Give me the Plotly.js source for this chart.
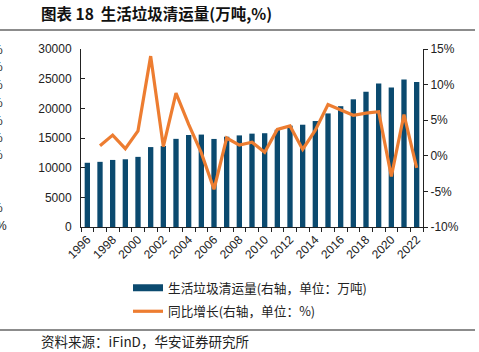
<!DOCTYPE html>
<html><head><meta charset="utf-8">
<script src="https://cdn.plot.ly/plotly-3.0.1.min.js"></script>
<style>html,body{margin:0;padding:0;background:#fff;}#chart{width:479px;height:352px;}</style>
</head><body><div id="chart"></div>
<script>
const years = [1996,1997,1998,1999,2000,2001,2002,2003,2004,2005,2006,2007,2008,2009,2010,2011,2012,2013,2014,2015,2016,2017,2018,2019,2020,2021,2022];
const volume = [10825,10982,11302,11415,11819,13470,13650,14857,15509,15577,14841,15215,15438,15734,15805,16395,17081,17239,17860,19142,20362,21521,22802,24206,23512,24869,24445];
const growthYears = [1997,1998,1999,2000,2001,2002,2003,2004,2005,2006,2007,2008,2009,2010,2011,2012,2013,2014,2015,2016,2017,2018,2019,2020,2021,2022];
const growth = [1.4,2.9,1.0,3.5,14.0,1.3,8.8,4.4,0.4,-4.7,2.5,1.5,1.9,0.5,3.7,4.2,0.9,3.6,7.2,6.4,5.7,6.0,6.2,-2.9,5.8,-1.7];
const tickYears = [1996,1998,2000,2002,2004,2006,2008,2010,2012,2014,2016,2018,2020,2022];
const leftTicks = [0,5000,10000,15000,20000,25000,30000];
const rightTicks = [-10,-5,0,5,10,15];
const seriesNames = ['生活垃圾清运量(右轴，单位：万吨)','同比增长(右轴，单位：%)'];
const titleText = '图表 18  生活垃圾清运量(万吨,%)';
const sourceText = '资料来源：iFinD，华安证券研究所';

const BLUE = '#0b4a6f', ORANGE = '#ed7d31';
const L = 81, R = 423, T = 49, B = 227;
const px = x => (x - L) / (R - L);
const py = y => (B - y) / (B - T);
const cjk = '"Noto Sans CJK SC", sans-serif';
const num = '"Liberation Sans", Arial, sans-serif';

const traces = [
  {type:'bar', x:years, y:volume, marker:{color:BLUE}, width:0.42, showlegend:false, name:seriesNames[0]},
  {type:'scatter', mode:'lines', x:[null], y:[null], line:{color:BLUE, width:7}, name:seriesNames[0], legendgroup:'a', hoverinfo:'skip'},
  {type:'scatter', mode:'lines', x:growthYears, y:growth, yaxis:'y2', line:{color:ORANGE, width:3.2}, name:seriesNames[1], legendgroup:'b'}
];

const pctStray = [50,67,85,103,121,138,155,208];
const annotations = pctStray.map(y => ({xref:'paper', yref:'paper', x:px(5), y:py(y), xanchor:'right', yanchor:'middle', text:'%', showarrow:false, font:{family:num, size:12, color:'#222'}}));
annotations.push({xref:'paper', yref:'paper', x:px(9), y:py(226), xanchor:'right', yanchor:'middle', text:'%', showarrow:false, font:{family:num, size:12, color:'#222'}});
annotations.push({xref:'paper', yref:'paper', x:px(39), y:py(341), xanchor:'left', yanchor:'middle', text:sourceText, showarrow:false, font:{family:cjk, size:13.5, color:'#222'}});

const layout = {
  width:479, height:352,
  margin:{l:L, r:479-R, t:T, b:352-B, pad:0},
  paper_bgcolor:'#fff', plot_bgcolor:'#fff',
  title:{text:titleText, xref:'container', yref:'container', x:41/479, xanchor:'left', y:1-15/352, yanchor:'middle', font:{family:cjk, size:15.5, color:'#111', weight:'bold'}},
  xaxis:{range:[1995.5,2022.5], tickmode:'array', tickvals:tickYears, ticktext:tickYears.map(String), tickangle:-45, ticks:'', showgrid:false, zeroline:false,
    showline:true, linecolor:'#222', linewidth:1, tickfont:{family:num, size:12, color:'#222'},
    minor:{tickmode:'linear', tick0:1995.5, dtick:1, ticks:'outside', ticklen:4, tickcolor:'#222', showgrid:false}},
  yaxis:{range:[0,30000], tickmode:'array', tickvals:leftTicks, ticktext:leftTicks.map(String), ticks:'inside', ticklen:4, tickcolor:'#222', showline:true, linecolor:'#222', linewidth:1, showgrid:false, zeroline:false,
    tickfont:{family:num, size:12, color:'#222'}, ticklabelstandoff:6},
  yaxis2:{range:[-10,15], tickmode:'array', tickvals:rightTicks, ticktext:rightTicks.map(v=>v+'%'), overlaying:'y', side:'right', ticks:'outside', ticklen:4, tickcolor:'#222',
    showline:true, linecolor:'#222', linewidth:1, showgrid:false, zeroline:false, tickfont:{family:num, size:12, color:'#222'}},
  legend:{x:px(128), y:py(273), xanchor:'left', yanchor:'top', orientation:'v', traceorder:'grouped', tracegroupgap:4, font:{family:cjk, size:12.7, color:'#222'}, bgcolor:'rgba(0,0,0,0)'},
  showlegend:true,
  shapes:[
    {type:'line', xref:'paper', yref:'paper', x0:px(0), x1:px(475), y0:py(30), y1:py(30), line:{color:'#666', width:1.5}},
    {type:'line', xref:'paper', yref:'paper', x0:px(0), x1:px(475), y0:py(330), y1:py(330), line:{color:'#666', width:1.5}}
  ],
  annotations:annotations
};
Plotly.newPlot('chart', traces, layout, {displayModeBar:false, staticPlot:true});
</script></body></html>
